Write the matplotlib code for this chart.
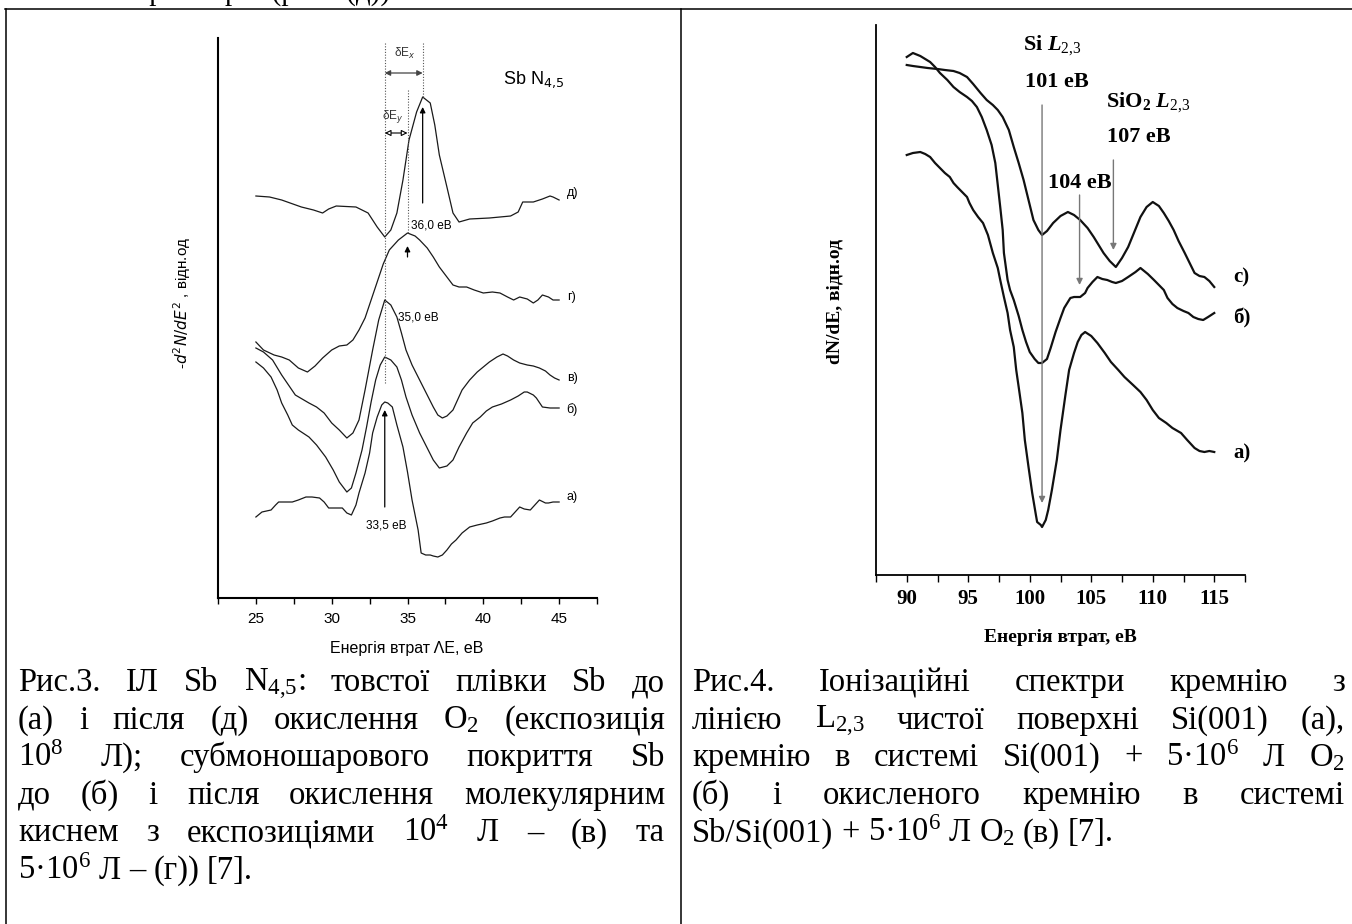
import matplotlib
matplotlib.use("Agg")
import matplotlib.pyplot as plt
from matplotlib.ticker import FixedLocator

plt.rcParams["mathtext.fontset"] = "custom"
plt.rcParams["mathtext.rm"] = "Liberation Serif"
plt.rcParams["mathtext.it"] = "Liberation Serif:italic:bold"
plt.rcParams["mathtext.bf"] = "Liberation Serif:bold"

# ---- Fig.3: Sb N4,5 spectra (energy eV, relative intensity) ----
e_d = [25.0, 25.9, 26.7, 28.0, 28.8, 29.4, 29.8, 30.3, 31.6, 32.4, 33.0, 33.5, 33.9, 34.3, 34.7, 35.1, 35.6,
       36.0, 36.5, 36.8, 37.1, 37.6, 38.0, 38.4, 39.1, 40.4, 41.8, 42.3, 42.6, 43.3, 43.9, 44.4, 44.6, 45.0]
v_d = [402, 401, 398, 391, 388, 385, 389, 392, 391, 385, 371, 361, 368, 385, 418, 458, 486,
       501, 495, 473, 443, 411, 385, 376, 379, 380, 382, 386, 396, 396, 399, 402, 401, 398]

e_g = [25.0, 25.5, 26.2, 26.7, 27.2, 27.8, 28.4, 28.9, 29.4, 30.0, 30.5, 31.0, 31.4, 31.8, 32.2, 32.6, 33.0,
       33.4, 33.8, 34.4, 35.0, 35.5, 35.8, 36.3, 36.7, 37.1, 37.6, 38.0, 38.4, 38.9, 39.4, 40.0, 40.6, 41.1,
       41.6, 42.0, 42.4, 42.9, 43.3, 43.6, 43.9, 44.3, 44.6, 45.0]
v_g = [256, 248, 243, 241, 238, 230, 226, 232, 240, 248, 252, 253, 258, 268, 280, 298, 316,
       334, 348, 358, 365, 362, 358, 350, 341, 331, 321, 313, 311, 311, 308, 305, 306, 305,
       301, 298, 301, 299, 295, 298, 303, 301, 298, 298]

e_v = [25.0, 25.5, 26.1, 26.7, 27.6, 28.5, 29.0, 29.5, 30.0, 30.5, 31.0, 31.4, 31.8, 32.2, 32.7, 33.1, 33.5,
       33.9, 34.3, 34.6, 34.9, 35.3, 35.8, 36.3, 36.7, 37.0, 37.3, 37.6, 38.0, 38.3, 38.6, 39.1, 39.6, 40.0,
       40.4, 40.9, 41.3, 41.6, 42.0, 42.4, 42.9, 43.3, 43.7, 44.1, 44.4, 44.7, 45.0]
v_v = [250, 246, 238, 223, 203, 195, 191, 185, 175, 168, 160, 165, 178, 208, 248, 278, 298,
       293, 281, 265, 248, 233, 218, 203, 191, 183, 180, 182, 188, 198, 208, 218, 226, 231,
       236, 241, 244, 242, 238, 235, 233, 232, 230, 227, 223, 220, 218]

e_b = [25.0, 25.5, 26.0, 26.4, 26.7, 27.1, 27.4, 27.8, 28.5, 29.0, 29.6, 30.1, 30.5, 31.0, 31.3, 31.6, 32.0,
       32.3, 32.6, 32.9, 33.2, 33.5, 33.9, 34.3, 34.6, 34.9, 35.3, 35.8, 36.3, 36.7, 37.1, 37.6, 38.0, 38.4,
       38.9, 39.3, 39.8, 40.2, 40.6, 41.2, 41.8, 42.3, 42.7, 42.9, 43.3, 43.5, 43.9, 44.4, 45.0]
v_b = [236, 230, 221, 208, 195, 183, 173, 168, 161, 153, 141, 128, 116, 106, 110, 125, 148,
       171, 196, 218, 233, 241, 238, 231, 218, 201, 183, 165, 150, 138, 130, 132, 138, 151,
       165, 175, 181, 187, 191, 194, 198, 202, 206, 206, 203, 200, 191, 190, 190]

e_a = [25.0, 25.4, 25.7, 26.0, 26.3, 26.5, 27.4, 27.8, 28.3, 28.7, 29.2, 29.5, 29.8, 30.3, 30.7, 31.0, 31.3,
       31.6, 31.8, 32.2, 32.5, 32.7, 33.0, 33.3, 33.5, 33.7, 34.0, 34.3, 34.7, 35.0, 35.3, 35.7, 35.9, 36.2,
       36.5, 36.7, 37.0, 37.3, 37.6, 37.9, 38.2, 38.6, 39.1, 39.6, 40.2, 40.6, 41.1, 41.4, 41.8, 42.1, 42.4,
       42.7, 43.1, 43.4, 43.7, 44.1, 44.3, 44.6, 45.0]
v_a = [81, 86, 87, 88, 93, 96, 96, 98, 101, 101, 100, 96, 90, 90, 90, 85, 83,
       93, 105, 125, 145, 165, 181, 193, 196, 195, 191, 173, 151, 126, 98, 68, 45, 43,
       43, 42, 41, 43, 48, 54, 58, 65, 71, 73, 75, 77, 80, 81, 81, 86, 91,
       89, 88, 93, 98, 95, 95, 96, 96]

left_curves = [(e_d, v_d, "д)", 405), (e_g, v_g, "г)", 301), (e_v, v_v, "в)", 220),
               (e_b, v_b, "б)", 188), (e_a, v_a, "а)", 101)]

# ---- Fig.4: Si L2,3 spectra ----
e_c = [90.0, 90.5, 91.1, 91.7, 92.5, 93.1, 93.8, 94.3, 94.9, 95.4, 96.0, 96.5, 97.0, 97.4, 97.8, 98.3, 98.7,
       99.1, 99.5, 99.9, 100.3, 100.7, 101.0, 101.4, 101.9, 102.5, 103.1, 103.6, 104.1, 104.7, 105.2, 105.6,
       106.0, 106.5, 107.0, 107.5, 108.0, 108.5, 109.0, 109.5, 110.0, 110.5, 110.9, 111.3, 111.7, 112.1, 112.6,
       113.0, 113.4, 113.8, 114.2, 114.6, 115.0]
v_c = [510, 509, 508, 507, 506, 505, 504, 502, 498, 491, 482, 475, 470, 465, 458, 445, 428,
       412, 395, 375, 355, 345, 340, 344, 352, 359, 363, 360, 355, 347, 338, 330,
       322, 314, 308, 317, 328, 343, 358, 368, 373, 369, 362, 354, 345, 334, 322,
       312, 302, 299, 298, 294, 288]

e_sb = [90.0, 90.5, 91.1, 91.5, 91.9, 92.3, 92.7, 93.3, 93.8, 94.3, 94.9, 95.3, 95.7, 96.1, 96.5, 96.9, 97.2,
        97.4, 97.6, 97.8, 97.9, 98.2, 98.4, 98.7, 99.1, 99.4, 99.7, 100.0, 100.4, 100.7, 101.0, 101.4, 101.7,
        102.1, 102.5, 102.8, 103.1, 103.3, 103.6, 103.9, 104.1, 104.5, 104.7, 105.1, 105.5, 105.9, 106.3, 106.7,
        107.0, 107.5, 108.0, 108.6, 109.0, 109.6, 110.1, 110.5, 110.9, 111.2, 111.6, 112.0, 112.5, 112.9, 113.3,
        113.7, 114.1, 114.5, 115.0]
v_sb = [518, 522, 519, 516, 513, 508, 502, 495, 488, 483, 478, 474, 468, 458, 445, 430, 412,
        390, 368, 345, 322, 295, 285, 275, 259, 245, 233, 223, 216, 212, 212, 216, 227,
        243, 257, 267, 273, 277, 278, 278, 278, 282, 287, 293, 298, 296, 295, 293,
        292, 294, 298, 303, 307, 301, 295, 290, 285, 277, 271, 267, 264, 262, 258,
        256, 255, 258, 262]

e_sa = [90.0, 90.5, 91.1, 91.5, 91.9, 92.3, 92.7, 93.1, 93.5, 93.8, 94.1, 94.5, 94.9, 95.1, 95.4, 95.8, 96.2,
        96.6, 97.0, 97.4, 97.6, 97.9, 98.2, 98.4, 98.7, 98.9, 99.1, 99.4, 99.6, 99.9, 100.2, 100.5, 100.6,
        100.9, 101.0, 101.3, 101.5, 101.8, 102.2, 102.5, 102.9, 103.2, 103.6, 103.9, 104.2, 104.5, 105.0, 105.5,
        106.1, 106.6, 107.2, 107.7, 108.4, 109.0, 109.5, 110.0, 110.5, 111.1, 111.6, 112.3, 112.8, 113.4, 113.8,
        114.2, 114.6, 115.0]
v_sa = [420, 422, 423, 421, 418, 412, 407, 402, 398, 392, 388, 383, 378, 372, 365, 358, 352,
        340, 322, 307, 295, 278, 262, 245, 228, 205, 188, 162, 135, 108, 82, 60, 53,
        50, 48, 55, 65, 85, 115, 145, 180, 205, 222, 233, 240, 243, 239, 232,
        222, 213, 205, 198, 190, 183, 175, 165, 157, 152, 147, 142, 135, 127, 124,
        123, 124, 123]

right_curves = [(e_c, v_c, "c)", 298), (e_sb, v_sb, "б)", 257), (e_sa, v_sa, "а)", 122)]

caption3 = [
    "Рис.3. ІЛ Sb N$_{4{,}5}$: товстої плівки Sb до",
    "(а) і після (д) окислення O$_2$ (експозиція",
    "10$^8$ Л); субмоношарового покриття Sb",
    "до (б) і після окислення молекулярним",
    "киснем з експозиціями 10$^4$ Л – (в) та",
    "5·10$^6$ Л – (г)) [7].",
]
caption4 = [
    "Рис.4. Іонізаційні спектри кремнію з",
    "лінією L$_{2{,}3}$ чистої поверхні Si(001) (а),",
    "кремнію в системі Si(001) + 5·10$^6$ Л O$_2$",
    "(б) і окисленого кремнію в системі",
    "Sb/Si(001) + 5·10$^6$ Л O$_2$ (в) [7].",
]

W, H = 1352, 924
fig = plt.figure(figsize=(W / 100, H / 100), dpi=100)

page = fig.add_axes([0, 0, 1, 1])
page.set_xlim(0, W)
page.set_ylim(H, 0)
page.axis("off")

# table borders
page.plot([5, W], [9, 9], color="k", lw=1.1)
page.plot([6, 6], [9, H], color="k", lw=1.1)
page.plot([681, 681], [9, H], color="k", lw=1.1)
page.text(397, 0, "енергії втрат (рис.3(д)).", ha="right", va="baseline",
          fontsize=21, family="Liberation Serif")


def box(x0, y0, x1, y1):
    return [x0 / W, 1 - y1 / H, (x1 - x0) / W, (y1 - y0) / H]


def style_axes(ax, lw):
    ax.set_facecolor("none")
    for s in ("top", "right"):
        ax.spines[s].set_visible(False)
    ax.spines["left"].set_linewidth(lw)
    ax.spines["bottom"].set_linewidth(lw)
    ax.set_yticks([])
    ax.tick_params(axis="x", which="both", direction="out", length=4, width=1)


# ---- left chart ----
ax1 = fig.add_axes(box(218, 38, 597, 598))
ax1.set_xlim(22.5, 47.5)
ax1.set_ylim(0, 560)
style_axes(ax1, 1.5)
ax1.xaxis.set_major_locator(FixedLocator([25, 30, 35, 40, 45]))
ax1.xaxis.set_minor_locator(FixedLocator([22.5, 27.5, 32.5, 37.5, 42.5, 47.5]))
ax1.tick_params(axis="x", labelsize=11, pad=6)
for lab in ax1.get_xticklabels():
    lab.set_family("Liberation Sans")

for xs, ys, name, ly in left_curves:
    ax1.plot(xs, ys, color="#1a1a1a", lw=0.9)
    ax1.text(45.5, ly, name, fontsize=9, family="Liberation Sans", va="center")

dot = dict(color="#555555", lw=0.8, ls=(0, (1, 1.5)))
ax1.plot([33.5, 33.5], [555, 215], **dot)
ax1.plot([36.0, 36.0], [555, 501], **dot)
ax1.plot([35.0, 35.0], [508, 365], **dot)

ax1.annotate("", xy=(33.5, 525), xytext=(36.0, 525),
             arrowprops=dict(arrowstyle="<|-|>", color="#444444", lw=0.9,
                             mutation_scale=8, shrinkA=0, shrinkB=0))
ax1.annotate("", xy=(33.5, 465), xytext=(35.0, 465),
             arrowprops=dict(arrowstyle="<|-|>", facecolor="white", edgecolor="k", lw=0.8,
                             mutation_scale=9, shrinkA=0, shrinkB=0))
ax1.text(34.8, 545, r"δE$_x$", fontsize=8.5, ha="center", va="center",
         family="Liberation Sans", math_fontfamily="dejavusans", color="#333333")
ax1.text(34.0, 481, r"δE$_y$", fontsize=8.5, ha="center", va="center",
         family="Liberation Sans", math_fontfamily="dejavusans", color="#333333")
ax1.text(41.3, 518, r"Sb N$_{4{,}5}$", fontsize=13, va="center",
         family="Liberation Sans", math_fontfamily="dejavusans")

up = dict(arrowstyle="-|>", color="k", lw=0.9, mutation_scale=8, shrinkA=0, shrinkB=0)
ax1.annotate("", xy=(36.0, 491), xytext=(36.0, 395), arrowprops=up)
ax1.annotate("", xy=(35.0, 352), xytext=(35.0, 341), arrowprops=up)
ax1.annotate("", xy=(33.5, 188), xytext=(33.5, 91), arrowprops=up)
ax1.text(35.2, 373, "36,0 еВ", fontsize=8.5, va="center", family="Liberation Sans")
ax1.text(34.35, 280, "35,0 еВ", fontsize=8.5, va="center", family="Liberation Sans")
ax1.text(33.6, 73, "33,5 еВ", fontsize=8.5, va="center", ha="center", family="Liberation Sans")

page.text(407, 648, "Енергія втрат ΛE, еВ", fontsize=11.5, ha="center", va="center",
          family="Liberation Sans")
page.text(182, 303, r"-$d^2N/dE^2$ , відн.од", fontsize=11, rotation=90, ha="center",
          va="center", family="Liberation Sans", math_fontfamily="dejavusans")

# ---- right chart ----
ax2 = fig.add_axes(box(876, 25, 1245, 575))
ax2.set_xlim(87.5, 117.5)
ax2.set_ylim(0, 550)
style_axes(ax2, 1.3)
ax2.xaxis.set_major_locator(FixedLocator([90, 95, 100, 105, 110, 115]))
ax2.xaxis.set_minor_locator(FixedLocator([87.5, 92.5, 97.5, 102.5, 107.5, 112.5, 117.5]))
ax2.tick_params(axis="x", which="both", length=5, labelsize=15, pad=5)
for lab in ax2.get_xticklabels():
    lab.set_family("Liberation Serif")
    lab.set_fontweight("bold")

for xs, ys, name, ly in right_curves:
    ax2.plot(xs, ys, color="#111111", lw=1.6)
    ax2.text(116.55, ly, name, fontsize=15, family="Liberation Serif", fontweight="bold",
             va="center", clip_on=False)

down = dict(arrowstyle="-|>", color="#777777", lw=1.0, mutation_scale=9, shrinkA=0, shrinkB=0)
ax2.annotate("", xy=(101.0, 72), xytext=(101.0, 470), arrowprops=down)
ax2.annotate("", xy=(104.05, 290), xytext=(104.05, 380), arrowprops=down)
ax2.annotate("", xy=(106.8, 325), xytext=(106.8, 415), arrowprops=down)

bold = dict(family="Liberation Serif", fontweight="bold", fontsize=16, va="center")
ax2.text(99.48, 530, r"Si $\mathit{L_{2{,}3}}$", **bold)
ax2.text(99.64, 493, "101 еВ", **bold)
ax2.text(106.2, 473, r"SiO$_\mathbf{2}$ $\mathit{L_{2{,}3}}$", **bold)
ax2.text(106.3, 438, "107 еВ", **bold)
ax2.text(101.5, 392, "104 еВ", **bold)

page.text(1060, 638, "Енергія втрат, еВ", fontsize=14, ha="center", va="center",
          family="Liberation Serif", fontweight="bold")
page.text(835, 301, "dN/dE, відн.од", fontsize=14, rotation=90, ha="center", va="center",
          family="Liberation Serif", fontweight="bold")


# ---- captions (justified) ----
def caption(lines, x0, x1, base0, step):
    r = fig.canvas.get_renderer()
    for i, line in enumerate(lines):
        y = base0 + i * step
        words = [page.text(0, y, w, fontsize=23.5, family="Liberation Serif", va="baseline")
                 for w in line.split()]
        widths = [t.get_window_extent(r).width for t in words]
        if i == len(lines) - 1:
            gap = 8.0
        else:
            gap = (x1 - x0 - sum(widths)) / (len(words) - 1)
        x = x0
        for t, w in zip(words, widths):
            t.set_x(x)
            x += w + gap


caption(caption3, 18, 665, 691, 37.6)
caption(caption4, 692, 1345, 691, 37.6)

fig.savefig("out.png", dpi=100)
